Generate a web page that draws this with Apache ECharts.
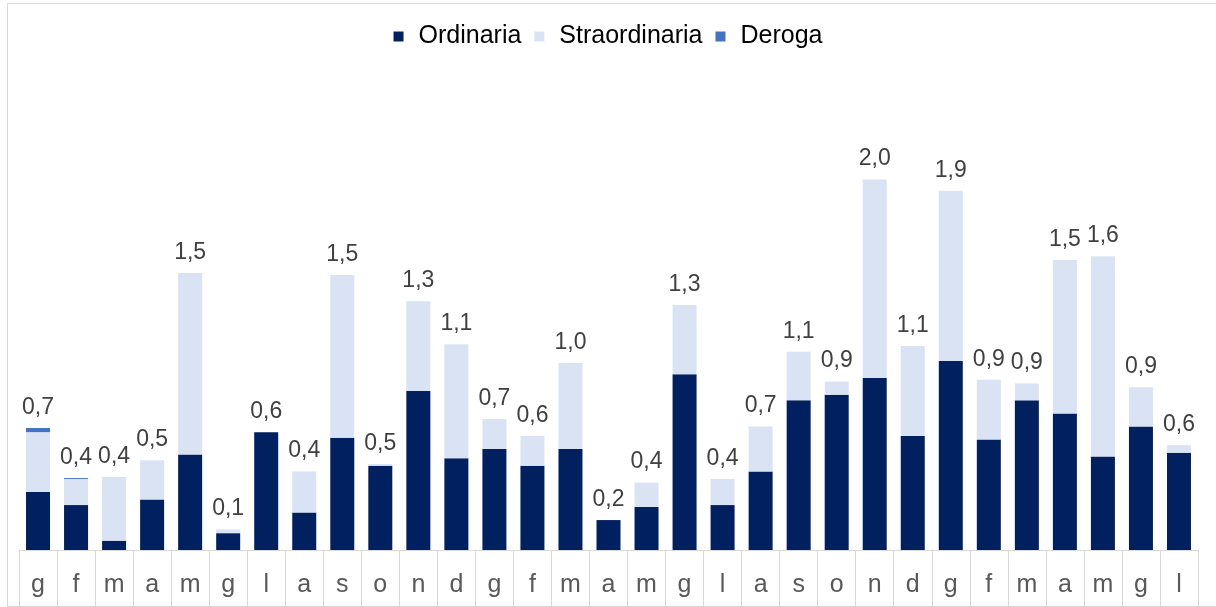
<!DOCTYPE html>
<html>
<head>
<meta charset="utf-8">
<script src="https://cdn.jsdelivr.net/npm/echarts@6/dist/echarts.min.js"></script>
<style>
  html, body { margin: 0; padding: 0; background: #fff; }
  #chart { position: absolute; left: 0; top: 0; width: 1216px; height: 607px; }
  .frame {
    position: absolute; left: 7px; top: 3px; width: 1220px; height: 602px;
    border: 1px solid #d9d9d9; pointer-events: none;
  }
</style>
</head>
<body>
<div id="chart"></div>
<div class="frame"></div>
<script>
// mesi (gen 2022 - lug 2024)
const mesi = ['g', 'f', 'm', 'a', 'm', 'g', 'l', 'a', 's', 'o', 'n', 'd',
  'g', 'f', 'm', 'a', 'm', 'g', 'l', 'a', 's', 'o', 'n', 'd',
  'g', 'f', 'm', 'a', 'm', 'g', 'l']

const ordinaria = [0.31, 0.24, 0.05, 0.27, 0.51, 0.09, 0.63, 0.20, 0.60, 0.45, 0.85, 0.49,
  0.54, 0.45, 0.54, 0.16, 0.23, 0.94, 0.24, 0.42, 0.80, 0.83, 0.92, 0.61,
  1.01, 0.59, 0.80, 0.73, 0.50, 0.66, 0.52]

const straordinaria = [0.32, 0.14, 0.34, 0.21, 0.97, 0.02, 0, 0.22, 0.87, 0.01, 0.48, 0.61,
  0.16, 0.16, 0.46, 0, 0.13, 0.37, 0.14, 0.24, 0.26, 0.07, 1.06, 0.48,
  0.91, 0.32, 0.09, 0.82, 1.07, 0.21, 0.04]

const deroga = [0.022, 0.005, 0, 0, 0, 0, 0, 0, 0, 0, 0, 0,
  0, 0, 0, 0, 0, 0, 0, 0, 0, 0, 0, 0,
  0, 0, 0, 0, 0, 0, 0]

// totale per le etichette sopra le colonne
const totale = mesi.map((m, i) => ordinaria[i] + straordinaria[i] + deroga[i])

const font = 'Liberation Sans, Arial, sans-serif'

const chart = echarts.init(document.getElementById('chart'))
chart.setOption({
  animation: false,
  legend: {
    data: ['Ordinaria', 'Straordinaria', 'Deroga'],
    top: 19,
    left: 'center',
    icon: 'rect',
    itemWidth: 10,
    itemHeight: 10,
    itemGap: 13,
    textStyle: { color: '#000', fontSize: 25, fontFamily: font, padding: [0, 0, 0, 10] }
  },
  grid: { left: 19, right: 18, top: 101, bottom: 57 },
  xAxis: {
    type: 'category',
    data: mesi,
    axisLine: { show: true, lineStyle: { color: '#d9d9d9', width: 1 } },
    axisTick: { show: true, interval: 0, length: 56, lineStyle: { color: '#d9d9d9' } },
    axisLabel: { interval: 0, margin: 23, color: '#595959', fontSize: 25, fontFamily: font }
  },
  yAxis: {
    type: 'value',
    show: false,
    min: 0,
    max: 2.4,
    splitLine: { show: false }
  },
  series: [
    {
      name: 'Ordinaria',
      type: 'bar',
      stack: 'tot',
      barWidth: 24,
      itemStyle: { color: '#002060' },
      data: ordinaria
    },
    {
      name: 'Straordinaria',
      type: 'bar',
      stack: 'tot',
      barWidth: 24,
      itemStyle: { color: '#dae3f3' },
      data: straordinaria
    },
    {
      name: 'Deroga',
      type: 'bar',
      stack: 'tot',
      barWidth: 24,
      itemStyle: { color: '#4472c4' },
      data: deroga
    },
    {
      name: 'Totale',
      type: 'bar',
      barWidth: 24,
      barGap: '-100%',
      z: 1,
      itemStyle: { color: 'rgba(0,0,0,0)' },
      label: {
        show: true,
        position: 'top',
        distance: 9,
        color: '#404040',
        fontSize: 23,
        fontFamily: font,
        formatter: p => p.value.toFixed(1).replace('.', ',')
      },
      data: totale
    }
  ]
})
</script>
</body>
</html>
